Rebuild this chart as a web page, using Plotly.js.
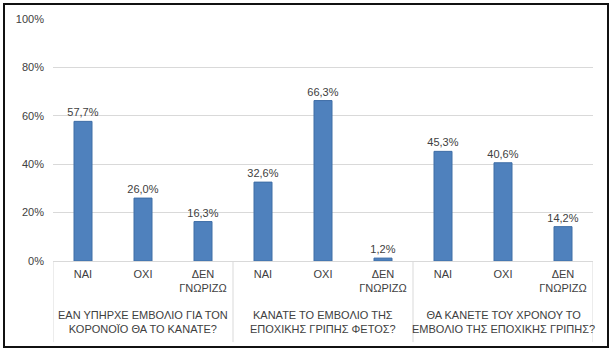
<!DOCTYPE html>
<html><head><meta charset="utf-8">
<script src="https://cdn.plot.ly/plotly-3.0.1.min.js"></script>
<style>
html,body{margin:0;padding:0;background:#fff;}
#wrap{position:relative;width:612px;height:353px;}
#chart{width:612px;height:353px;}
#frame{position:absolute;left:3px;top:3px;width:602px;height:341px;border:2px solid #111;pointer-events:none;}
</style></head>
<body><div id="wrap"><div id="chart"></div><div id="frame"></div></div>
<script>
const questions = [
  "ΕΑΝ ΥΠΗΡΧΕ ΕΜΒΟΛΙΟ ΓΙΑ ΤΟΝ<br>ΚΟΡΟΝΟΪΟ ΘΑ ΤΟ ΚΑΝΑΤΕ?",
  "ΚΑΝΑΤΕ ΤΟ ΕΜΒΟΛΙΟ ΤΗΣ<br>ΕΠΟΧΙΚΗΣ ΓΡΙΠΗΣ ΦΕΤΟΣ?",
  "ΘΑ ΚΑΝΕΤΕ ΤΟΥ ΧΡΟΝΟΥ ΤΟ<br>ΕΜΒΟΛΙΟ ΤΗΣ ΕΠΟΧΙΚΗΣ ΓΡΙΠΗΣ?"
];
const answers = ["ΝΑΙ", "ΟΧΙ", "ΔΕΝ<br>ΓΝΩΡΙΖΩ"];
const q1 = [57.7, 26.0, 16.3];
const q2 = [32.6, 66.3, 1.2];
const q3 = [45.3, 40.6, 14.2];
const yTicks = [0, 20, 40, 60, 80, 100];
const yTickText = ["0%", "20%", "40%", "60%", "80%", "100%"];

const series = [q1, q2, q3];
const xs = [], yv = [], tickvals = [], ticktext = [];
series.forEach((s, i) => s.forEach((v, j) => {
  const k = i * answers.length + j;
  xs.push(k); yv.push(v); tickvals.push(k); ticktext.push(answers[j]);
}));
const n = answers.length;

const fam = "Liberation Sans, Arial, sans-serif";
const col = "#404040";
const annotations = questions.map((q, i) => ({
  x: i * n + (n - 1) / 2, xref: "x",
  y: -0.19, yref: "paper", yanchor: "top",
  text: q, showarrow: false,
  font: {family: fam, size: 11, color: col}
}));
const shapes = [];
for (let i = 0; i <= questions.length; i++) {
  shapes.push({type: "line", xref: "x", yref: "paper",
    x0: i * n - 0.5, x1: i * n - 0.5, y0: 0, y1: -0.335,
    line: {color: "#d9d9d9", width: 1}});
}

Plotly.newPlot("chart", [{
  type: "bar",
  x: xs,
  y: yv,
  width: 0.3,
  marker: {color: "#4f81bd", line: {color: "#3f6ea6", width: 1}},
  texttemplate: "%{y:.1f}%",
  textposition: "outside",
  constraintext: "none",
  textfont: {family: fam, size: 11, color: col},
  cliponaxis: false,
  hoverinfo: "none"
}], {
  width: 612, height: 353,
  margin: {l: 53, r: 19, t: 19, b: 92},
  separators: ",.",
  paper_bgcolor: "#fff", plot_bgcolor: "#fff",
  showlegend: false,
  font: {family: fam, size: 11, color: col},
  annotations: annotations,
  shapes: shapes,
  xaxis: {
    range: [-0.5, xs.length - 0.5],
    tickmode: "array",
    tickvals: tickvals,
    ticktext: ticktext,
    showgrid: false,
    zeroline: false,
    showline: false,
    ticks: "",
    ticklabelstandoff: 5,
    tickfont: {family: fam, size: 11, color: col}
  },
  yaxis: {
    range: [0, 100],
    tickmode: "array",
    tickvals: yTicks,
    ticktext: yTickText,
    gridcolor: "#d9d9d9",
    gridwidth: 1,
    zeroline: true,
    zerolinecolor: "#d9d9d9",
    showline: false,
    ticklabelstandoff: 8,
    tickfont: {family: fam, size: 11, color: col}
  }
}, {staticPlot: true});
</script></body></html>
